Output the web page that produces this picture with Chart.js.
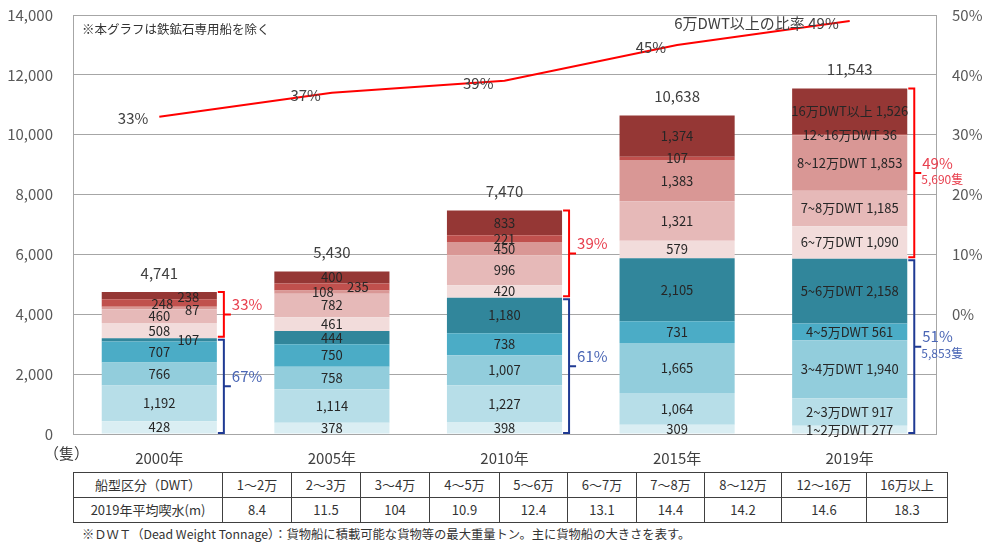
<!DOCTYPE html>
<html lang="ja">
<head>
<meta charset="utf-8">
<script src="https://cdn.jsdelivr.net/npm/chart.js@4.4.1/dist/chart.umd.min.js"></script>
<style>
body{margin:0;background:#fff;font-family:"Noto Sans CJK JP","Noto Sans",sans-serif;color:#333;}
#wrap{position:relative;width:985px;height:545px;overflow:hidden;}
#c{position:absolute;left:0;top:0;}
#note{position:absolute;left:82px;top:19px;font-size:12.5px;color:#333;}
#unit{position:absolute;left:44px;top:442px;font-size:15px;color:#404040;}
#tbl{position:absolute;left:73px;top:472px;border-collapse:collapse;font-size:13px;color:#333;}
#tbl td{border:1px solid #404040;height:24px;padding:0;text-align:center;line-height:24px;}
#foot{position:absolute;left:82px;top:525px;font-size:12.3px;color:#333;white-space:nowrap;}
</style>
</head>
<body>
<div id="wrap">
  <canvas id="c" width="985" height="470"></canvas>
  <div id="note">※本グラフは鉄鉱石専用船を除く</div>
  <div id="unit">（隻）</div>
  <table id="tbl"></table>
  <div id="foot">※ＤＷＴ（Dead Weight Tonnage）：貨物船に積載可能な貨物等の最大重量トン。主に貨物船の大きさを表す。</div>
</div>
<script>
// years on the x axis
const years = ["2000年", "2005年", "2010年", "2015年", "2019年"];

// ship counts per size class, bottom of the stack first
const s1to2   = [428, 378, 398, 309, 277];
const s2to3   = [1192, 1114, 1227, 1064, 917];
const s3to4   = [766, 758, 1007, 1665, 1940];
const s4to5   = [707, 750, 738, 731, 561];
const s5to6   = [107, 444, 1180, 2105, 2158];
const s6to7   = [508, 461, 420, 579, 1090];
const s7to8   = [460, 782, 996, 1321, 1185];
const s8to12  = [87, 108, 450, 1383, 1853];
const s12to16 = [248, 235, 221, 107, 36];
const s16up   = [238, 400, 833, 1374, 1526];

const classNames = ["1~2万DWT", "2~3万DWT", "3~4万DWT", "4~5万DWT", "5~6万DWT",
  "6~7万DWT", "7~8万DWT", "8~12万DWT", "12~16万DWT", "16万DWT以上"];
const series = [s1to2, s2to3, s3to4, s4to5, s5to6, s6to7, s7to8, s8to12, s12to16, s16up];
const colors = ["#DAEEF3", "#B7DEE8", "#92CDDC", "#4BACC6", "#31869B",
  "#F2DCDB", "#E6B9B8", "#D99795", "#C0504D", "#953735"];

// share of ships 60k DWT and over (right axis, %)
const ratio60k = [33, 37, 39, 45, 49];
const ratioLabels = ["33%", "37%", "39%", "45%", "6万DWT以上の比率 49%"];

// braces next to some bars
const braceAt = [0, 2, 4];
const upperShare = ["33%", "39%", "49%"];
const lowerShare = ["67%", "61%", "51%"];
const upperCount = ["", "", "5,690隻"];
const lowerCount = ["", "", "5,853隻"];

// table under the chart
const tableClasses = ["1～2万", "2～3万", "3～4万", "4～5万", "5～6万", "6～7万", "7～8万", "8～12万", "12～16万", "16万以上"];
const draft2019 = ["8.4", "11.5", "104", "10.9", "12.4", "13.1", "14.4", "14.2", "14.6", "18.3"];

// small nudges for labels that would overlap in thin segments: "series-year": [dx, dy]
const nudge = { "4-0": [29, 0], "7-0": [33, 2], "8-0": [3, 1], "9-0": [29, 1], "7-1": [-9, 0], "8-1": [26, 0] };

const fmt = v => v.toLocaleString("en-US");
const JP = '"Noto Sans CJK JP", sans-serif';

function buildTable(){
  const t = document.getElementById("tbl");
  const widths = [148, 68, 68, 68, 69, 67, 68, 67, 76, 84, 80];
  const r1 = t.insertRow(), r2 = t.insertRow();
  ["船型区分（DWT）"].concat(tableClasses).forEach((txt, i)=>{
    const c = r1.insertCell(); c.textContent = txt; c.style.width = widths[i] + "px";
  });
  ["2019年平均喫水(m)"].concat(draft2019).forEach(txt=>{
    const c = r2.insertCell(); c.textContent = txt;
  });
}

function drawBrace(ctx, x0, vx, top, bottom, color){
  const mid = (top + bottom) / 2;
  ctx.strokeStyle = color;
  ctx.lineWidth = 2;
  ctx.beginPath();
  ctx.moveTo(x0, top); ctx.lineTo(vx, top); ctx.lineTo(vx, bottom); ctx.lineTo(x0, bottom);
  ctx.moveTo(vx, mid); ctx.lineTo(vx + 7, mid);
  ctx.stroke();
  return mid;
}

const overlay = {
  id: "overlay",
  afterDatasetsDraw(chart){
    const ctx = chart.ctx, ys = chart.scales.y;
    ctx.save();
    ctx.textAlign = "center";
    ctx.textBaseline = "middle";

    // values inside the segments
    ctx.fillStyle = "#262626";
    ctx.font = "13px " + JP;
    series.forEach((s, i)=>{
      chart.getDatasetMeta(i).data.forEach((el, j)=>{
        const n = nudge[i + "-" + j] || [0, 0];
        const txt = j === 4 ? classNames[i] + " " + fmt(s[j]) : fmt(s[j]);
        ctx.fillText(txt, el.x + n[0], (el.y + el.base) / 2 + n[1]);
      });
    });

    // totals above the bars
    const totals = years.map((_, j)=> series.reduce((a, s)=> a + s[j], 0));
    ctx.fillStyle = "#404040";
    ctx.font = "15px " + JP;
    totals.forEach((t, j)=>{
      const el = chart.getDatasetMeta(0).data[j];
      ctx.fillText(fmt(t), el.x, ys.getPixelForValue(t) - 19);
    });

    // ratio line labels
    ctx.textAlign = "right";
    chart.getDatasetMeta(10).data.forEach((pt, j)=>{
      ctx.fillText(ratioLabels[j], pt.x - 11, pt.y + 2);
    });

    // braces
    ctx.textAlign = "left";
    braceAt.forEach((j, k)=>{
      const el = chart.getDatasetMeta(0).data[j];
      const right = el.x + el.width / 2;
      const vx = right + 7;
      const lower = series.slice(0, 5).reduce((a, s)=> a + s[j], 0);
      const topY = ys.getPixelForValue(totals[j]);
      const midY = ys.getPixelForValue(lower);
      const baseY = ys.getPixelForValue(0);
      const m1 = drawBrace(ctx, right + 1, vx, topY, midY - 1.5, "#FF0000");
      const m2 = drawBrace(ctx, right + 1, vx, midY + 1.5, baseY - 1, "#1F3A93");
      ctx.font = "15px " + JP;
      ctx.fillStyle = "#E8404F";
      ctx.fillText(upperShare[k], vx + 8, m1 - 10);
      ctx.fillStyle = "#4A66B5";
      ctx.fillText(lowerShare[k], vx + 8, m2 - 10);
      ctx.font = "12px " + JP;
      ctx.fillStyle = "#E8404F";
      if(upperCount[k]) ctx.fillText(upperCount[k], vx + 7, m1 + 7);
      ctx.fillStyle = "#4A66B5";
      if(lowerCount[k]) ctx.fillText(lowerCount[k], vx + 7, m2 + 7);
    });
    ctx.restore();
  }
};

// y axes: fixed widths, and no extra room reserved for the top tick label
function fitY(width){
  return s => { s.width = width; s.paddingTop = 0; s.paddingBottom = 0; };
}

document.addEventListener("DOMContentLoaded", ()=>{
  buildTable();

  const datasets = series.map((s, i)=>({
    type: "bar", label: classNames[i], data: s, backgroundColor: colors[i],
    stack: "ships", yAxisID: "y", order: 1,
    categoryPercentage: 1, barPercentage: 0.667
  }));
  datasets.push({
    type: "line", label: "6万DWT以上の比率", data: ratio60k, yAxisID: "y2",
    borderColor: "#FF0000", borderWidth: 2, pointRadius: 0, tension: 0, order: 0
  });

  new Chart(document.getElementById("c").getContext("2d"), {
    data: { labels: years, datasets },
    plugins: [overlay],
    options: {
      responsive: false, animation: false, devicePixelRatio: 1,
      layout: { padding: { top: 15, left: 0, right: 0, bottom: 0 } },
      plugins: { legend: { display: false }, tooltip: { enabled: false } },
      scales: {
        x: {
          stacked: true,
          grid: { display: false },
          border: { display: false },
          ticks: { color: "#404040", font: { size: 15, family: JP }, padding: 7 },
          afterFit: s => { s.height = 36; s.paddingLeft = 0; s.paddingRight = 0; }
        },
        y: {
          stacked: true, min: 0, max: 14000,
          grid: { color: "#A6A6A6", drawTicks: false },
          border: { color: "#A6A6A6" },
          ticks: { stepSize: 2000, color: "#595959", font: { size: 15, family: JP }, padding: 20,
            callback: v => fmt(v) },
          afterFit: fitY(73)
        },
        y2: {
          position: "right", min: -20, max: 50,
          grid: { display: false, drawTicks: false },
          border: { color: "#A6A6A6" },
          ticks: { stepSize: 10, color: "#595959", font: { size: 15, family: JP }, padding: 16,
            callback: v => v < 0 ? "" : v + "%" },
          afterFit: fitY(49)
        }
      }
    }
  });
});
</script>
</body>
</html>
